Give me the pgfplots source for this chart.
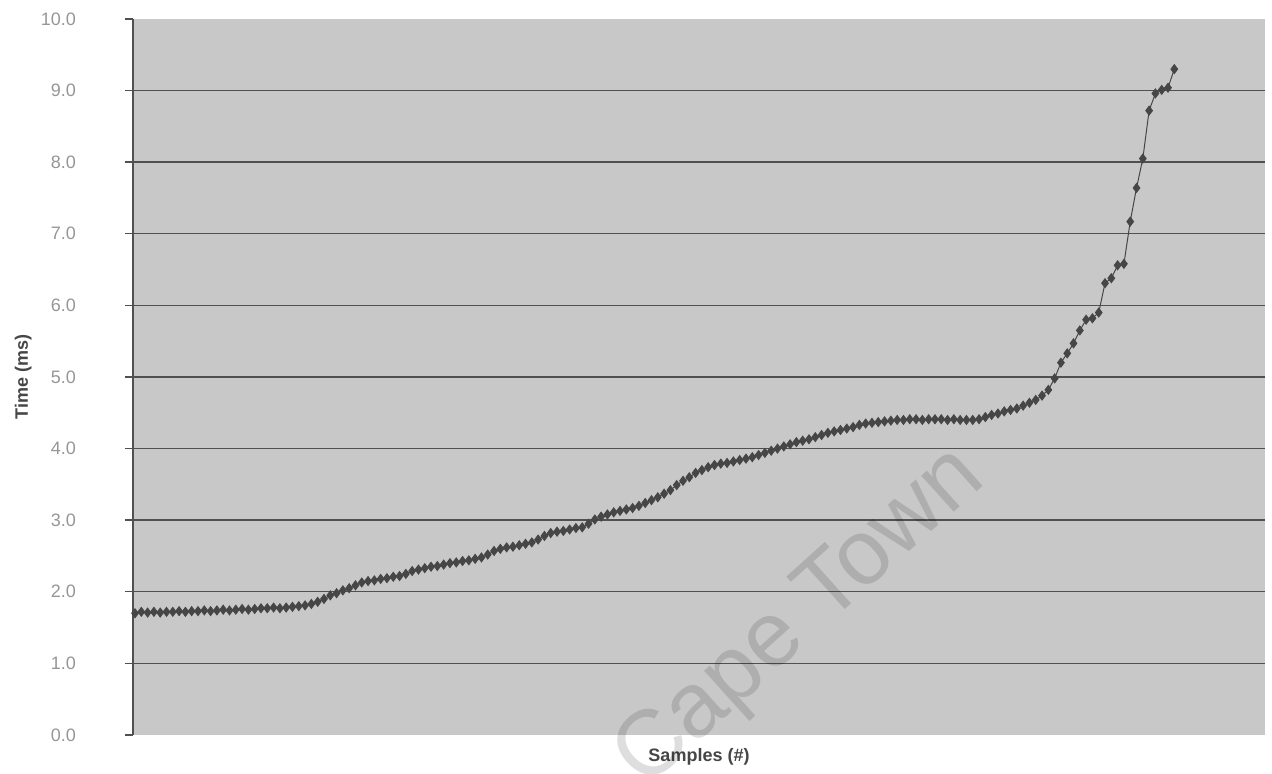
\documentclass[border=0pt]{standalone}
\usepackage{pgfplots}
\pgfplotsset{compat=1.18}
\usepackage{pgfplotstable}
\usepackage{fontspec}
\setmainfont{Liberation Sans}
\definecolor{bgc}{RGB}{200,200,200}
\definecolor{gridc}{RGB}{80,80,80}
\definecolor{linec}{RGB}{70,70,70}
\definecolor{tickc}{RGB}{150,150,150}
\definecolor{labc}{RGB}{70,70,70}
\pgfplotstableread{
i t
0 1.70
1 1.72
2 1.71
3 1.72
4 1.71
5 1.72
6 1.72
7 1.73
8 1.72
9 1.73
10 1.73
11 1.74
12 1.73
13 1.74
14 1.75
15 1.74
16 1.75
17 1.76
18 1.75
19 1.76
20 1.77
21 1.77
22 1.78
23 1.77
24 1.78
25 1.79
26 1.80
27 1.81
28 1.83
29 1.86
30 1.90
31 1.95
32 1.98
33 2.02
34 2.05
35 2.09
36 2.13
37 2.15
38 2.16
39 2.18
40 2.19
41 2.21
42 2.22
43 2.25
44 2.29
45 2.31
46 2.33
47 2.35
48 2.36
49 2.38
50 2.40
51 2.41
52 2.43
53 2.44
54 2.46
55 2.48
56 2.52
57 2.57
58 2.60
59 2.62
60 2.63
61 2.65
62 2.67
63 2.69
64 2.73
65 2.78
66 2.82
67 2.84
68 2.85
69 2.87
70 2.89
71 2.90
72 2.95
73 3.01
74 3.05
75 3.08
76 3.11
77 3.13
78 3.15
79 3.17
80 3.20
81 3.24
82 3.28
83 3.32
84 3.37
85 3.42
86 3.49
87 3.55
88 3.60
89 3.66
90 3.70
91 3.74
92 3.77
93 3.79
94 3.80
95 3.82
96 3.84
97 3.86
98 3.88
99 3.91
100 3.94
101 3.97
102 4.00
103 4.03
104 4.06
105 4.09
106 4.11
107 4.13
108 4.16
109 4.19
110 4.22
111 4.24
112 4.26
113 4.28
114 4.30
115 4.33
116 4.35
117 4.36
118 4.37
119 4.38
120 4.39
121 4.40
122 4.40
123 4.41
124 4.41
125 4.40
126 4.41
127 4.41
128 4.41
129 4.40
130 4.41
131 4.40
132 4.40
133 4.40
134 4.41
135 4.44
136 4.47
137 4.49
138 4.52
139 4.54
140 4.56
141 4.60
142 4.64
143 4.68
144 4.74
145 4.82
146 4.98
147 5.20
148 5.33
149 5.47
150 5.65
151 5.80
152 5.82
153 5.90
154 6.31
155 6.38
156 6.56
157 6.58
158 7.17
159 7.64
160 8.05
161 8.72
162 8.96
163 9.01
164 9.04
165 9.30
}\samples
\begin{document}
\begin{tikzpicture}
\useasboundingbox (-66.5pt,-19.5pt) rectangle (569.5pt,367.5pt);
\begin{axis}[
  scale only axis,
  width=566pt, height=358pt,
  xmin=-0.32, xmax=179.4,
  ymin=0, ymax=10,
  ytick={0,1,...,10},
  xtick=\empty,
  axis background/.style={fill=bgc},
  axis y line*=left,
  axis x line*=bottom,
  x axis line style={draw=none},
  y axis line style={draw=gridc, line width=0.7pt},
  extra y ticks={1,2,...,9},
  extra y tick labels={},
  extra y tick style={grid=major, major tick length=0pt},
  major grid style={draw=gridc, line width=0.7pt},
  tick align=outside,
  major tick length=4pt,
  ytick style={draw=gridc, line width=0.7pt},
  /pgf/number format/assume math mode=true,
  yticklabel={\pgfmathprintnumber[fixed,fixed zerofill,precision=1]{\tick}},
  yticklabel style={font=\fontsize{9}{10}\selectfont, text=tickc, anchor=east, xshift=-21pt},
  ylabel={Time (ms)},
  xlabel={Samples (\#)},
  every axis y label/.style={at={(axis description cs:-0.097,0.5)}, rotate=90, anchor=center, font=\fontsize{9}{10}\selectfont\bfseries, text=labc},
  every axis x label/.style={at={(axis description cs:0.5,-0.031)}, anchor=center, font=\fontsize{9}{10}\selectfont\bfseries, text=labc},
  clip=false,
]
\addplot[color=linec, line width=0.5pt, mark=diamond*, mark size=2.2pt, mark options={fill=linec, draw=linec}] table[x=i, y=t] {\samples};
\end{axis}
\node[rotate=42, text=black, opacity=0.13, font=\fontsize{46}{50}\selectfont] at (334pt,58pt) {Cape Town};
\end{tikzpicture}
\end{document}
